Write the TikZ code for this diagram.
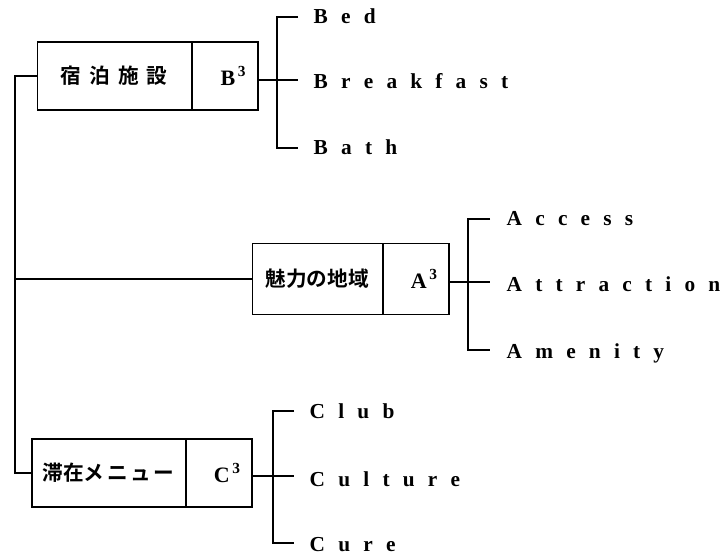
\documentclass[tikz,border=0pt]{standalone}
\usepackage{fontspec}
\setmainfont{Liberation Serif}
\newfontfamily\jpfont{Noto Sans CJK JP}[BoldFont={* Bold}]
\newcommand\myleaffont{\bfseries\fontsize{16}{16}\selectfont\spaceskip=9.9pt plus 0pt minus 0pt\relax}
\begin{document}
\begin{tikzpicture}[x=0.75pt,y=-0.75pt,line width=1.1pt,
  boxL/.style={draw,rectangle,minimum height=51pt,inner sep=0pt,font=\jpfont\bfseries\fontsize{15.5}{15.5}\selectfont},
  boxR/.style={draw,rectangle,minimum height=51pt,minimum width=49pt,inner sep=0pt,font=\bfseries\fontsize{16.5}{16.5}\selectfont},
  leaf/.style={anchor=mid west,inner sep=0pt,yshift=-2.5pt,font=\myleaffont}]
\useasboundingbox (0,0) rectangle (721,558);
% box B
\node[boxL,minimum width=115.5pt,anchor=east] (bL) at (192,76) {宿\hspace{6pt}泊\hspace{6pt}施\hspace{6pt}設};
\node[boxR,anchor=west] (bR) at (bL.east) {\hspace{12pt}B\textsuperscript{\,3}};
% box A
\node[boxL,minimum width=97.5pt,anchor=east,minimum height=53pt] (aL) at (383,279) {魅力の地域};
\node[boxR,anchor=west,minimum height=53pt] (aR) at (aL.east) {\hspace{12pt}A\textsuperscript{\,3}};
% box C
\node[boxL,minimum width=115pt,anchor=east] (cL) at (186,473) {滞在メ\hspace{2pt}ニ\hspace{2pt}ュ\hspace{2pt}ー};
\node[boxR,anchor=west] (cR) at (cL.east) {\hspace{12pt}C\textsuperscript{\,3}};
% trunk
\coordinate (tTop) at (15,76);
\coordinate (tMid) at (15,279);
\coordinate (tBot) at (15,473);
\draw (bL.west) -- (tTop) -- (tBot) -- (cL.west);
\draw (aL.west) -- (tMid);
% leaves B
\node[leaf] (bed) at (313,17) {B e d};
\node[leaf] (breakfast) at (313,82) {B r e a k f a s t};
\node[leaf] (bath) at (313,148) {B a t h};
\coordinate (b1) at (298,17); \coordinate (b1v) at (277,17);
\coordinate (b2) at (298,80);
\coordinate (b3) at (298,148); \coordinate (b3v) at (277,148);
\draw (b1) -- (b1v) -- (b3v) -- (b3);
\draw (bR.east |- b2) -- (b2);
% leaves A
\node[leaf] (access) at (506,219) {A c c e s s};
\node[leaf] (attraction) at (506,285) {A t t r a c t i o n};
\node[leaf] (amenity) at (506,352) {A m e n i t y};
\coordinate (a1) at (490,219); \coordinate (a1v) at (468,219);
\coordinate (a2) at (490,282);
\coordinate (a3) at (490,350); \coordinate (a3v) at (468,350);
\draw (a1) -- (a1v) -- (a3v) -- (a3);
\draw (aR.east |- a2) -- (a2);
% leaves C
\node[leaf] (club) at (309,412) {C l u b};
\node[leaf] (culture) at (309,480) {C u l t u r e};
\node[leaf] (cure) at (309,545) {C u r e};
\coordinate (c1) at (294,411); \coordinate (c1v) at (273,411);
\coordinate (c2) at (294,476);
\coordinate (c3) at (294,543); \coordinate (c3v) at (273,543);
\draw (c1) -- (c1v) -- (c3v) -- (c3);
\draw (cR.east |- c2) -- (c2);
\end{tikzpicture}
\end{document}
